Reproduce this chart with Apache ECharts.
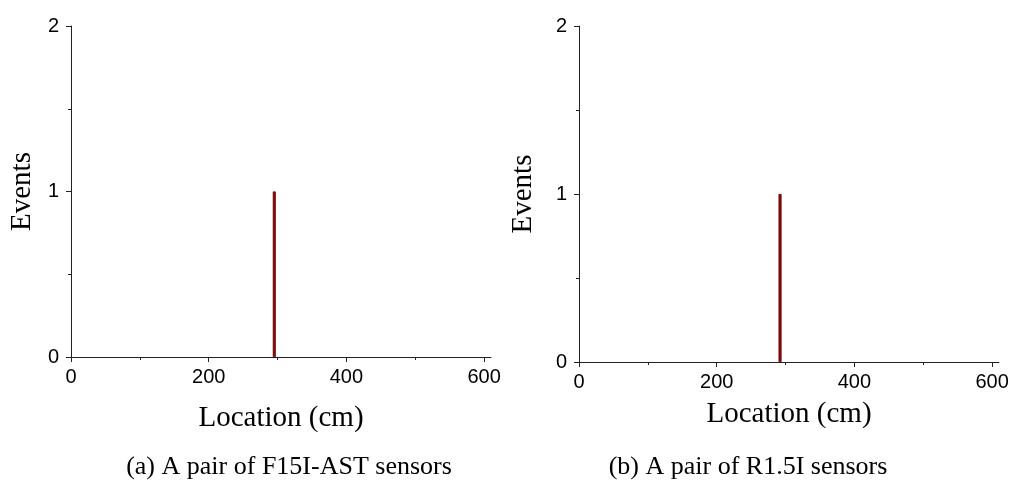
<!DOCTYPE html>
<html>
<head>
<meta charset="utf-8">
<title>Events vs. location</title>
<script src="https://cdn.jsdelivr.net/npm/echarts@6/dist/echarts.min.js"></script>
<style>
  html, body { margin: 0; padding: 0; background: #fff; }
  #chart { width: 1012px; height: 481px; }
</style>
</head>
<body>
<div id="chart"></div>
<script>
// Event locations (cm) and counts for each sensor pair
const locationsA = [295.3];
const eventsA = [1];
const locationsB = [292];
const eventsB = [1];

const xMajorTicks = [0, 200, 400, 600];
const xMinorTicks = [100, 300, 500];
const yTicks = [0, 1, 2];

const captionA = '(a) A pair of F15I-AST sensors';
const captionB = '(b) A pair of R1.5I sensors';
const xTitle = 'Location (cm)';
const yTitle = 'Events';

const SANS = '"Liberation Sans", Arial, sans-serif';
const SERIF = '"Liberation Serif", "Times New Roman", serif';
const AXIS_COLOR = '#222';

function pairs(xs, ys) {
  return xs.map((x, i) => [x, ys[i]]);
}

function mainX(gridIndex, nameGap) {
  return {
    type: 'value', gridIndex, position: 'bottom', min: 0, max: 610,
    name: xTitle, nameLocation: 'middle', nameGap,
    nameTextStyle: { fontFamily: SERIF, fontSize: 29, color: '#000' },
    axisLine: { show: true, lineStyle: { color: AXIS_COLOR, width: 1 } },
    axisTick: { show: true, length: 5, customValues: xMajorTicks, lineStyle: { color: AXIS_COLOR } },
    axisLabel: { customValues: xMajorTicks, fontFamily: SANS, fontSize: 20, color: '#000', margin: 10 },
    splitLine: { show: false }
  };
}

// Second axis on the same grid, carrying only the short intermediate ticks
function minorX(gridIndex) {
  return {
    type: 'value', gridIndex, position: 'bottom', min: 0, max: 610,
    axisLine: { show: false },
    axisTick: { show: true, length: 3, customValues: xMinorTicks, lineStyle: { color: AXIS_COLOR } },
    axisLabel: { show: false },
    splitLine: { show: false }
  };
}

function mainY(gridIndex, nameGap) {
  return {
    type: 'value', gridIndex, min: 0, max: 2, interval: 1,
    name: yTitle, nameLocation: 'middle', nameGap,
    nameTextStyle: { fontFamily: SERIF, fontSize: 29, color: '#000' },
    axisLine: { show: true, lineStyle: { color: AXIS_COLOR, width: 1 } },
    axisTick: { show: true, length: 5, lineStyle: { color: AXIS_COLOR } },
    minorTick: { show: true, splitNumber: 2, length: 3, lineStyle: { color: AXIS_COLOR } },
    axisLabel: { fontFamily: SANS, fontSize: 20, color: '#000', margin: 12,
      formatter: v => (yTicks.includes(v) ? String(v) : '') },
    splitLine: { show: false }
  };
}

const barStyle = { color: '#a00000', borderColor: '#300000', borderWidth: 0.6 };

const chart = echarts.init(document.getElementById('chart'), null, { renderer: 'canvas' });
chart.setOption({
  animation: false,
  backgroundColor: '#fff',
  grid: [
    { left: 71, top: 26, width: 420, height: 331 },
    { left: 579, top: 26, width: 420, height: 336 }
  ],
  xAxis: [mainX(0, 47), mainX(1, 38), minorX(0), minorX(1)],
  yAxis: [mainY(0, 34), mainY(1, 41)],
  series: [
    { type: 'bar', xAxisIndex: 0, yAxisIndex: 0, barWidth: 3,
      data: pairs(locationsA, eventsA), itemStyle: barStyle },
    { type: 'bar', xAxisIndex: 1, yAxisIndex: 1, barWidth: 3,
      data: pairs(locationsB, eventsB), itemStyle: barStyle }
  ],
  graphic: [
    { type: 'text', x: 289, y: 467,
      style: { text: captionA, font: '26px ' + SERIF, fill: '#000', align: 'center', verticalAlign: 'middle' } },
    { type: 'text', x: 748, y: 467,
      style: { text: captionB, font: '26px ' + SERIF, fill: '#000', align: 'center', verticalAlign: 'middle' } }
  ]
});
</script>
</body>
</html>
